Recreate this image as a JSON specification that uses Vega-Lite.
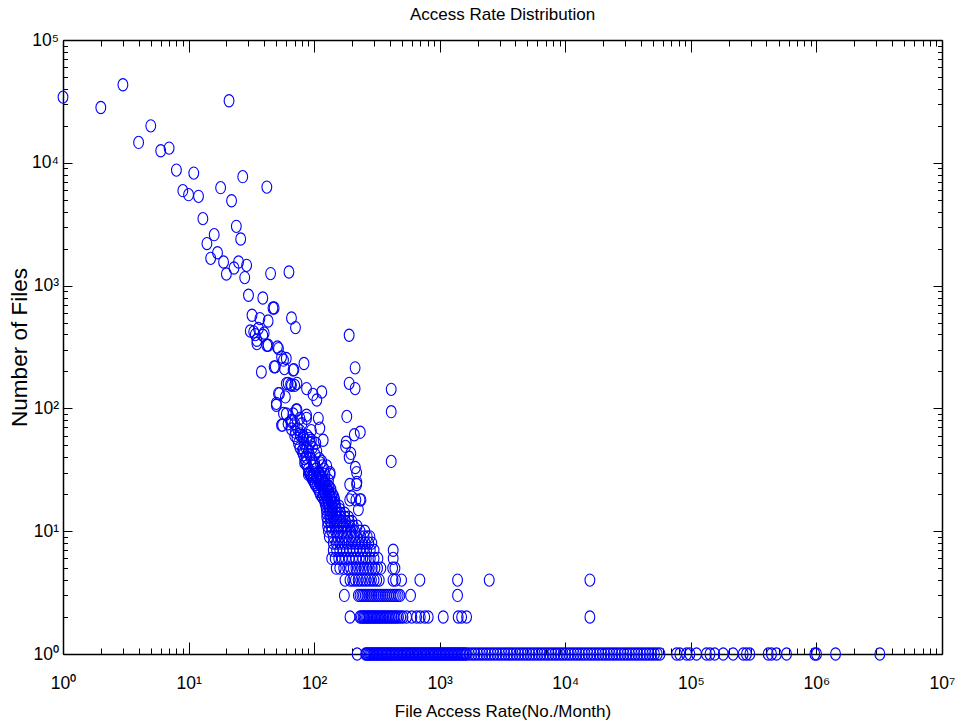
{
"$schema":"https://vega.github.io/schema/vega-lite/v6.json",
"width":879,"height":614,
"autosize":{"type":"none"},
"padding":{"left":63,"top":40,"right":15,"bottom":71},
"background":"white",
"title":{"text":"Access Rate Distribution","font":"Liberation Sans, Arial, sans-serif","fontSize":17,"fontWeight":"normal","color":"black","anchor":"middle","baseline":"alphabetic","offset":-6},
"config":{"view":{"stroke":null},"axis":{"domainColor":"black","tickColor":"black","labelColor":"black","titleColor":"black","grid":false,"labelFont":"Liberation Sans, Arial, sans-serif","titleFont":"Liberation Sans, Arial, sans-serif","titleFontWeight":"normal","domainWidth":1.5,"tickWidth":1,"labelFlush":false,"labelOverlap":false,"labelBound":false}},
"data":{"values":[
{"rate":1,"files":34270},{"rate":2,"files":28200},{"rate":3,"files":43200},{"rate":4,"files":14650},{"rate":5,"files":20000},{"rate":6,"files":12540},{"rate":7,"files":13180},{"rate":8,"files":8720},{"rate":9,"files":5930},{"rate":10,"files":5500},{"rate":11,"files":8250},{"rate":12,"files":5330},{"rate":13,"files":3510},{"rate":14,"files":2200},{"rate":15,"files":1668},{"rate":16,"files":2600},{"rate":17,"files":1850},{"rate":18,"files":6270},{"rate":19,"files":1556},{"rate":20,"files":1244},{"rate":21,"files":32000},{"rate":22,"files":4910},{"rate":23,"files":1391},{"rate":24,"files":3040},{"rate":25,"files":1556},{"rate":26,"files":2395},{"rate":27,"files":7710},{"rate":28,"files":1162},{"rate":29,"files":1463},{"rate":42,"files":6340},{"rate":45,"files":1253},{"rate":63,"files":1290},
{"rate":30,"files":834},{"rate":39,"files":793},{"rate":32,"files":573},{"rate":47,"files":657},{"rate":48,"files":657},{"rate":37,"files":539},{"rate":43,"files":515},{"rate":66,"files":545},{"rate":71,"files":455},{"rate":31,"files":427},{"rate":34,"files":399},{"rate":36,"files":447},{"rate":40,"files":411},{"rate":33,"files":420},{"rate":35,"files":337},{"rate":42,"files":327},{"rate":52,"files":307},{"rate":55,"files":262},{"rate":60,"files":255},{"rate":83,"files":232},{"rate":38,"files":198},{"rate":48,"files":218},{"rate":58,"files":211},{"rate":69,"files":207},{"rate":60,"files":159},{"rate":65,"files":157},{"rate":70,"files":154},{"rate":53,"files":132},{"rate":87,"files":145},{"rate":59,"files":124},{"rate":50,"files":106},{"rate":98,"files":130},{"rate":190,"files":394},{"rate":212,"files":214},{"rate":190,"files":160},{"rate":212,"files":145},{"rate":411,"files":143},{"rate":411,"files":94},{"rate":35,"files":359},{"rate":39,"files":394},{"rate":43,"files":327},{"rate":57,"files":247},{"rate":49,"files":218},{"rate":68,"files":205},{"rate":62,"files":160},{"rate":66,"files":154},{"rate":73,"files":160},{"rate":115,"files":136},{"rate":105,"files":117},{"rate":52,"files":132},{"rate":50,"files":110},{"rate":72,"files":97},{"rate":51,"files":316},
{"rate":411,"files":37},{"rate":182,"files":86},{"rate":209,"files":61},{"rate":233,"files":64},{"rate":178,"files":49},{"rate":180,"files":53},{"rate":190,"files":40},{"rate":196,"files":43},{"rate":213,"files":33},{"rate":192,"files":24},{"rate":219,"files":25},{"rate":192,"files":18},{"rate":215,"files":18},{"rate":236,"files":18},{"rate":57,"files":91},{"rate":55,"files":73},{"rate":66,"files":80},{"rate":73,"files":97},{"rate":77,"files":83},{"rate":87,"files":83},{"rate":108,"files":83},{"rate":111,"files":69},{"rate":71,"files":64},{"rate":77,"files":62},{"rate":82,"files":59},{"rate":95,"files":66},{"rate":95,"files":55},{"rate":118,"files":55},{"rate":82,"files":46},{"rate":87,"files":40},{"rate":84,"files":36},{"rate":101,"files":36},{"rate":115,"files":37},{"rate":126,"files":34},{"rate":90,"files":29},{"rate":98,"files":28},{"rate":111,"files":29},{"rate":122,"files":26},{"rate":134,"files":29},{"rate":130,"files":23},{"rate":118,"files":20},{"rate":134,"files":19},{"rate":142,"files":17},{"rate":126,"files":17},{"rate":56,"files":73},{"rate":66,"files":78},{"rate":87,"files":88},{"rate":77,"files":66},{"rate":93,"files":29},{"rate":126,"files":22},{"rate":138,"files":19},{"rate":218,"files":30},{"rate":218,"files":24},{"rate":199,"files":19},{"rate":232,"files":18},{"rate":225,"files":15},
{"rate":60,"files":90},{"rate":68,"files":90},{"rate":62,"files":75},{"rate":70,"files":75},{"rate":80,"files":75},{"rate":66,"files":68},{"rate":74,"files":68},{"rate":70,"files":60},{"rate":78,"files":60},{"rate":88,"files":60},{"rate":73,"files":57},{"rate":82,"files":57},{"rate":92,"files":57},{"rate":75,"files":52},{"rate":83,"files":52},{"rate":93,"files":52},{"rate":103,"files":52},{"rate":77,"files":48},{"rate":86,"files":48},{"rate":97,"files":48},{"rate":80,"files":45},{"rate":90,"files":45},{"rate":105,"files":45},{"rate":82,"files":42},{"rate":92,"files":42},{"rate":102,"files":42},{"rate":84,"files":39},{"rate":95,"files":39},{"rate":110,"files":39},{"rate":86,"files":36},{"rate":98,"files":36},{"rate":112,"files":36},{"rate":88,"files":34},{"rate":100,"files":34},{"rate":116,"files":34},{"rate":90,"files":32},{"rate":104,"files":32},{"rate":120,"files":32},
{"rate":91,"files":30},{"rate":98,"files":30},{"rate":108,"files":30},{"rate":134,"files":30},
{"rate":93,"files":29},{"rate":100,"files":29},{"rate":110,"files":29},{"rate":122,"files":29},
{"rate":95,"files":28},{"rate":104,"files":28},{"rate":114,"files":28},
{"rate":96,"files":27},{"rate":106,"files":27},{"rate":116,"files":27},
{"rate":98,"files":26},{"rate":108,"files":26},{"rate":118,"files":26},{"rate":130,"files":26},
{"rate":100,"files":25},{"rate":110,"files":25},{"rate":120,"files":25},
{"rate":102,"files":24},{"rate":112,"files":24},{"rate":122,"files":24},
{"rate":105,"files":23},{"rate":115,"files":23},{"rate":125,"files":23},{"rate":132,"files":23},
{"rate":108,"files":22},{"rate":118,"files":22},{"rate":128,"files":22},{"rate":136,"files":22},
{"rate":110,"files":21},{"rate":120,"files":21},{"rate":130,"files":21},
{"rate":112,"files":20},{"rate":122,"files":20},{"rate":132,"files":20},{"rate":140,"files":20},
{"rate":116,"files":19},{"rate":126,"files":19},{"rate":134,"files":19},{"rate":144,"files":19},
{"rate":120,"files":18},{"rate":128,"files":18},{"rate":136,"files":18},{"rate":146,"files":18},
{"rate":122,"files":17},{"rate":130,"files":17},{"rate":138,"files":17},{"rate":147,"files":17},
{"rate":124,"files":16},{"rate":131,"files":16},{"rate":139,"files":16},{"rate":148,"files":16},{"rate":158,"files":16},
{"rate":125,"files":15},{"rate":132,"files":15},{"rate":140,"files":15},{"rate":150,"files":15},{"rate":160,"files":15},
{"rate":126,"files":14},{"rate":133,"files":14},{"rate":140,"files":14},{"rate":150,"files":14},{"rate":162,"files":14},{"rate":175,"files":14},
{"rate":126,"files":13},{"rate":134,"files":13},{"rate":142,"files":13},{"rate":152,"files":13},{"rate":163,"files":13},{"rate":175,"files":13},{"rate":188,"files":13},
{"rate":128,"files":12},{"rate":135,"files":12},{"rate":144,"files":12},{"rate":153,"files":12},{"rate":165,"files":12},{"rate":178,"files":12},{"rate":190,"files":12},{"rate":200,"files":12},
{"rate":128,"files":11},{"rate":136,"files":11},{"rate":146,"files":11},{"rate":156,"files":11},{"rate":168,"files":11},{"rate":180,"files":11},{"rate":193,"files":11},{"rate":205,"files":11},{"rate":220,"files":11},
{"rate":130,"files":10},{"rate":138,"files":10},{"rate":148,"files":10},{"rate":158,"files":10},{"rate":170,"files":10},{"rate":182,"files":10},{"rate":195,"files":10},{"rate":210,"files":10},{"rate":232,"files":10},{"rate":253,"files":10},
{"rate":132,"files":9},{"rate":142,"files":9},{"rate":152,"files":9},{"rate":162,"files":9},{"rate":172,"files":9},{"rate":183,"files":9},{"rate":195,"files":9},{"rate":207,"files":9},{"rate":220,"files":9},{"rate":234,"files":9},{"rate":250,"files":9},{"rate":265,"files":9},{"rate":278,"files":9},
{"rate":142,"files":8},{"rate":150,"files":8},{"rate":160,"files":8},{"rate":172,"files":8},{"rate":184,"files":8},{"rate":198,"files":8},{"rate":211,"files":8},{"rate":225,"files":8},{"rate":240,"files":8},{"rate":255,"files":8},{"rate":272,"files":8},{"rate":288,"files":8},
{"rate":142,"files":7},{"rate":151,"files":7},{"rate":160,"files":7},{"rate":170,"files":7},{"rate":181,"files":7},{"rate":192,"files":7},{"rate":204,"files":7},{"rate":217,"files":7},{"rate":231,"files":7},{"rate":246,"files":7},{"rate":262,"files":7},{"rate":280,"files":7},{"rate":300,"files":7},{"rate":426,"files":7},
{"rate":138,"files":6},{"rate":147,"files":6},{"rate":157,"files":6},{"rate":167,"files":6},{"rate":178,"files":6},{"rate":190,"files":6},{"rate":202,"files":6},{"rate":215,"files":6},{"rate":229,"files":6},{"rate":244,"files":6},{"rate":260,"files":6},{"rate":280,"files":6},{"rate":300,"files":6},{"rate":322,"files":6},{"rate":426,"files":6},
{"rate":150,"files":5},{"rate":160,"files":5},{"rate":172,"files":5},{"rate":185,"files":5},{"rate":195,"files":5},{"rate":205,"files":5},{"rate":215,"files":5},{"rate":226,"files":5},{"rate":238,"files":5},{"rate":250,"files":5},{"rate":262,"files":5},{"rate":275,"files":5},{"rate":290,"files":5},{"rate":305,"files":5},{"rate":320,"files":5},{"rate":340,"files":5},{"rate":422,"files":5},{"rate":440,"files":5},
{"rate":176,"files":4},{"rate":193,"files":4},{"rate":203,"files":4},{"rate":213,"files":4},{"rate":224,"files":4},{"rate":235,"files":4},{"rate":247,"files":4},{"rate":259,"files":4},{"rate":272,"files":4},{"rate":286,"files":4},{"rate":300,"files":4},{"rate":315,"files":4},{"rate":330,"files":4},{"rate":425,"files":4},{"rate":445,"files":4},{"rate":497,"files":4},{"rate":695,"files":4},{"rate":1387,"files":4},{"rate":2479,"files":4},{"rate":15700,"files":4},
{"rate":174,"files":3},{"rate":225,"files":3},{"rate":232,"files":3},{"rate":240,"files":3},{"rate":247,"files":3},{"rate":255,"files":3},{"rate":263,"files":3},{"rate":272,"files":3},{"rate":281,"files":3},{"rate":290,"files":3},{"rate":300,"files":3},{"rate":310,"files":3},{"rate":320,"files":3},{"rate":331,"files":3},{"rate":342,"files":3},{"rate":354,"files":3},{"rate":366,"files":3},{"rate":378,"files":3},{"rate":391,"files":3},{"rate":405,"files":3},{"rate":420,"files":3},{"rate":435,"files":3},{"rate":450,"files":3},{"rate":467,"files":3},{"rate":482,"files":3},{"rate":586,"files":3},{"rate":1387,"files":3},
{"rate":193,"files":2},{"rate":232,"files":2},{"rate":238,"files":2},{"rate":245,"files":2},{"rate":250,"files":2},{"rate":256,"files":2},{"rate":262,"files":2},{"rate":268,"files":2},{"rate":275,"files":2},{"rate":281,"files":2},{"rate":288,"files":2},{"rate":295,"files":2},{"rate":302,"files":2},{"rate":310,"files":2},{"rate":318,"files":2},{"rate":326,"files":2},{"rate":334,"files":2},{"rate":343,"files":2},{"rate":352,"files":2},{"rate":361,"files":2},{"rate":371,"files":2},{"rate":381,"files":2},{"rate":392,"files":2},{"rate":403,"files":2},{"rate":415,"files":2},{"rate":428,"files":2},{"rate":441,"files":2},{"rate":455,"files":2},{"rate":470,"files":2},{"rate":490,"files":2},{"rate":510,"files":2},{"rate":545,"files":2},{"rate":600,"files":2},{"rate":655,"files":2},{"rate":700,"files":2},{"rate":760,"files":2},{"rate":810,"files":2},{"rate":1067,"files":2},{"rate":1403,"files":2},{"rate":1494,"files":2},{"rate":1637,"files":2},{"rate":15700,"files":2},
{"rate":220,"files":1},{"rate":257,"files":1},{"rate":262,"files":1},{"rate":268,"files":1},{"rate":275,"files":1},{"rate":281,"files":1},{"rate":287,"files":1},{"rate":294,"files":1},{"rate":300,"files":1},{"rate":308,"files":1},{"rate":315,"files":1},{"rate":322,"files":1},{"rate":330,"files":1},{"rate":338,"files":1},{"rate":346,"files":1},{"rate":355,"files":1},{"rate":363,"files":1},{"rate":372,"files":1},{"rate":381,"files":1},{"rate":391,"files":1},{"rate":400,"files":1},{"rate":410,"files":1},{"rate":420,"files":1},{"rate":431,"files":1},{"rate":442,"files":1},{"rate":453,"files":1},{"rate":464,"files":1},{"rate":476,"files":1},{"rate":488,"files":1},{"rate":500,"files":1},{"rate":512,"files":1},{"rate":525,"files":1},{"rate":538,"files":1},{"rate":552,"files":1},{"rate":566,"files":1},{"rate":580,"files":1},{"rate":594,"files":1},{"rate":609,"files":1},{"rate":624,"files":1},{"rate":640,"files":1},{"rate":656,"files":1},{"rate":672,"files":1},{"rate":689,"files":1},{"rate":706,"files":1},{"rate":724,"files":1},{"rate":742,"files":1},{"rate":760,"files":1},{"rate":779,"files":1},{"rate":799,"files":1},{"rate":818,"files":1},{"rate":839,"files":1},{"rate":860,"files":1},{"rate":881,"files":1},{"rate":903,"files":1},{"rate":926,"files":1},{"rate":949,"files":1},{"rate":973,"files":1},{"rate":997,"files":1},{"rate":1022,"files":1},{"rate":1047,"files":1},{"rate":1073,"files":1},{"rate":1100,"files":1},{"rate":1128,"files":1},{"rate":1156,"files":1},{"rate":1185,"files":1},{"rate":1215,"files":1},{"rate":1245,"files":1},{"rate":1276,"files":1},{"rate":1310,"files":1},{"rate":1340,"files":1},{"rate":1375,"files":1},{"rate":1408,"files":1},{"rate":1445,"files":1},{"rate":1480,"files":1},{"rate":1520,"files":1},{"rate":1555,"files":1},{"rate":1600,"files":1},
{"rate":1640,"files":1},{"rate":1725,"files":1},{"rate":1815,"files":1},{"rate":1905,"files":1},{"rate":2005,"files":1},{"rate":2110,"files":1},{"rate":2215,"files":1},{"rate":2330,"files":1},{"rate":2450,"files":1},{"rate":2575,"files":1},{"rate":2710,"files":1},{"rate":2850,"files":1},{"rate":3000,"files":1},{"rate":3150,"files":1},{"rate":3310,"files":1},{"rate":3480,"files":1},{"rate":3660,"files":1},{"rate":3850,"files":1},{"rate":4050,"files":1},{"rate":4260,"files":1},{"rate":4480,"files":1},{"rate":4720,"files":1},{"rate":4960,"files":1},{"rate":5220,"files":1},{"rate":5490,"files":1},{"rate":5780,"files":1},{"rate":6080,"files":1},{"rate":6390,"files":1},{"rate":6730,"files":1},{"rate":7080,"files":1},{"rate":7450,"files":1},{"rate":7840,"files":1},{"rate":8250,"files":1},{"rate":8680,"files":1},{"rate":9130,"files":1},{"rate":9610,"files":1},{"rate":10100,"files":1},{"rate":10650,"files":1},{"rate":11200,"files":1},{"rate":11800,"files":1},{"rate":12400,"files":1},{"rate":13000,"files":1},{"rate":13700,"files":1},{"rate":14400,"files":1},{"rate":15200,"files":1},{"rate":16000,"files":1},{"rate":16800,"files":1},{"rate":17700,"files":1},{"rate":18600,"files":1},{"rate":19600,"files":1},{"rate":20600,"files":1},{"rate":21700,"files":1},{"rate":22800,"files":1},{"rate":24000,"files":1},{"rate":25200,"files":1},{"rate":26500,"files":1},{"rate":27900,"files":1},{"rate":29400,"files":1},{"rate":30900,"files":1},{"rate":32500,"files":1},{"rate":34200,"files":1},{"rate":36000,"files":1},{"rate":37800,"files":1},{"rate":39800,"files":1},{"rate":41900,"files":1},{"rate":44100,"files":1},{"rate":46400,"files":1},{"rate":48800,"files":1},{"rate":51300,"files":1},{"rate":54000,"files":1},{"rate":56800,"files":1},
{"rate":76900,"files":1},{"rate":81700,"files":1},{"rate":92400,"files":1},{"rate":98200,"files":1},{"rate":111000,"files":1},{"rate":133000,"files":1},{"rate":142000,"files":1},{"rate":155000,"files":1},{"rate":181000,"files":1},{"rate":217000,"files":1},{"rate":261000,"files":1},{"rate":277000,"files":1},{"rate":295000,"files":1},{"rate":413000,"files":1},{"rate":439000,"files":1},{"rate":481000,"files":1},{"rate":578000,"files":1},{"rate":971000,"files":1},{"rate":1002000,"files":1},{"rate":1420000,"files":1},{"rate":3200000,"files":1}
]},
"layer":[
{"mark":{"type":"point","shape":"M-0.8,0A0.8,1,0,1,1,0.8,0A0.8,1,0,1,1,-0.8,0Z","size":150,"filled":false,"color":"#0000ff","strokeWidth":1.1,"opacity":1},
"encoding":{
"x":{"field":"rate","type":"quantitative","scale":{"type":"log","domain":[1,10000000],"nice":false},
"axis":{"orient":"bottom","values":[1,10,100,1000,10000,100000,1000000,10000000],"tickSize":-12,"labelExpr":"'10' + ['⁰','¹','²','³','⁴','⁵','⁶','⁷'][round(log(datum.value)/LN10)]","labelFontSize":17.5,"labelBaseline":"alphabetic","labelAlign":"center","labelPadding":46,"title":"File Access Rate(No./Month)","titleFontSize":17,"titleX":439.5,"titleY":62,"titleBaseline":"alphabetic","titleAlign":"center"}},
"y":{"field":"files","type":"quantitative","scale":{"type":"log","domain":[1,100000],"nice":false},
"axis":{"orient":"left","values":[1,10,100,1000,10000,100000],"tickSize":-9,"labelExpr":"'10' + ['⁰','¹','²','³','⁴','⁵','⁶','⁷'][round(log(datum.value)/LN10)]","labelFontSize":17.5,"labelBaseline":"middle","labelAlign":"right","labelPadding":13.5,"title":"Number of Files","titleFont":"Liberation Sans, Arial, sans-serif","titleFontSize":22.5,"titleAngle":-90,"titleX":-37,"titleY":307,"titleBaseline":"alphabetic","titleAlign":"center"}}
}},
{"transform":[{"filter":"datum.rate == 1"}],
"mark":{"type":"point","opacity":0},
"encoding":{
"x":{"field":"rate","type":"quantitative","scale":{"type":"log","domain":[1,10000000],"nice":false},
"axis":{"orient":"bottom","values":[2,3,4,5,6,7,8,9,20,30,40,50,60,70,80,90,200,300,400,500,600,700,800,900,2000,3000,4000,5000,6000,7000,8000,9000,20000,30000,40000,50000,60000,70000,80000,90000,200000,300000,400000,500000,600000,700000,800000,900000,2000000,3000000,4000000,5000000,6000000,7000000,8000000,9000000],"tickSize":-6,"labels":false,"domain":false,"title":null}},
"y":{"field":"files","type":"quantitative","scale":{"type":"log","domain":[1,100000],"nice":false},
"axis":{"orient":"left","values":[2,3,4,5,6,7,8,9,20,30,40,50,60,70,80,90,200,300,400,500,600,700,800,900,2000,3000,4000,5000,6000,7000,8000,9000,20000,30000,40000,50000,60000,70000,80000,90000],"tickSize":-4.5,"labels":false,"domain":false,"title":null}}
}},
{"transform":[{"filter":"datum.rate == 1"}],
"mark":{"type":"point","opacity":0},
"encoding":{
"x":{"field":"rate","type":"quantitative","scale":{"type":"log","domain":[1,10000000],"nice":false},
"axis":{"orient":"top","values":[1,10,100,1000,10000,100000,1000000,10000000],"tickSize":-12,"labels":false,"domain":true,"title":null}},
"y":{"field":"files","type":"quantitative","scale":{"type":"log","domain":[1,100000],"nice":false},
"axis":{"orient":"right","values":[1,10,100,1000,10000,100000],"tickSize":-9,"labels":false,"domain":true,"title":null}}
}},
{"transform":[{"filter":"datum.rate == 1"}],
"mark":{"type":"point","opacity":0},
"encoding":{
"x":{"field":"rate","type":"quantitative","scale":{"type":"log","domain":[1,10000000],"nice":false},
"axis":{"orient":"top","values":[2,3,4,5,6,7,8,9,20,30,40,50,60,70,80,90,200,300,400,500,600,700,800,900,2000,3000,4000,5000,6000,7000,8000,9000,20000,30000,40000,50000,60000,70000,80000,90000,200000,300000,400000,500000,600000,700000,800000,900000,2000000,3000000,4000000,5000000,6000000,7000000,8000000,9000000],"tickSize":-6,"labels":false,"domain":false,"title":null}},
"y":{"field":"files","type":"quantitative","scale":{"type":"log","domain":[1,100000],"nice":false},
"axis":{"orient":"right","values":[2,3,4,5,6,7,8,9,20,30,40,50,60,70,80,90,200,300,400,500,600,700,800,900,2000,3000,4000,5000,6000,7000,8000,9000,20000,30000,40000,50000,60000,70000,80000,90000],"tickSize":-4.5,"labels":false,"domain":false,"title":null}}
}}
],
"resolve":{"axis":{"x":"independent","y":"independent"}}
}
